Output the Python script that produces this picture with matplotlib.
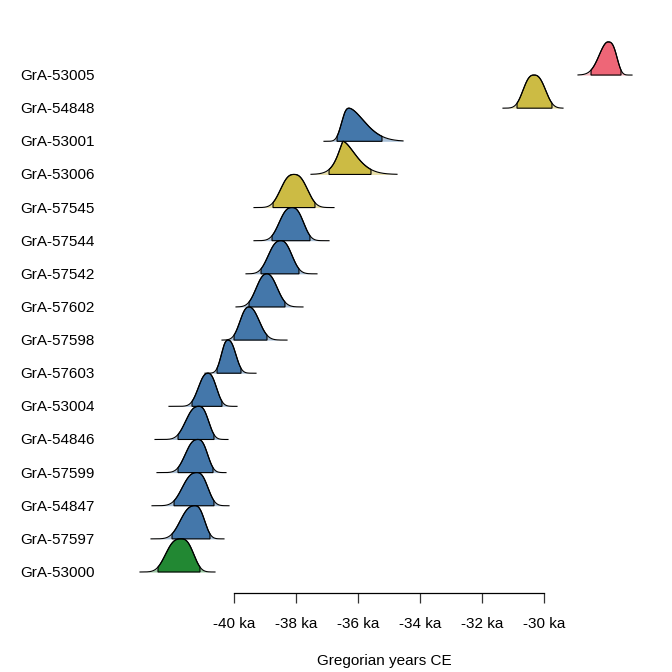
import numpy as np
import matplotlib
matplotlib.use('Agg')
import matplotlib.pyplot as plt
import matplotlib.transforms as mtransforms

plt.rcParams['font.family'] = ['Liberation Sans', 'DejaVu Sans']

# samples from top to bottom (years CE, negative = BCE)
labels = ['GrA-53005', 'GrA-54848', 'GrA-53001', 'GrA-53006', 'GrA-57545', 'GrA-57544',
          'GrA-57542', 'GrA-57602', 'GrA-57598', 'GrA-57603', 'GrA-53004', 'GrA-54846',
          'GrA-57599', 'GrA-54847', 'GrA-57597', 'GrA-53000']
peak = [-27935, -30323, -36290, -36484, -38065, -38129, -38484, -38935,
        -39516, -40194, -40839, -41129, -41161, -41194, -41258, -41710]
hdr_lo = [-28484, -30871, -36677, -36935, -38742, -38774, -39129, -39516,
          -40000, -40548, -41355, -41806, -41806, -41935, -42000, -42452]
hdr_hi = [-27516, -29742, -35226, -35581, -37387, -37548, -37903, -38355,
          -38935, -39774, -40387, -40645, -40677, -40645, -40774, -41097]
span_lo = [-28903, -31323, -37097, -37516, -39355, -39355, -39613, -39935,
           -40387, -40935, -42097, -42548, -42484, -42645, -42677, -43032]
span_hi = [-27161, -29387, -34548, -34742, -36774, -36935, -37323, -37774,
           -38290, -39290, -39903, -40194, -40258, -40161, -40323, -40613]
# how flat/peaked each side of the density looks (2 = normal)
shape_lo = [2.0, 2.6, 2.5, 1.3, 2.6, 2.6, 2.6, 2.4, 2.4, 2.4, 2.4, 2.6, 2.6, 2.6, 2.6, 2.8]
shape_hi = [3.0, 2.6, 1.7, 1.6, 2.6, 2.6, 2.4, 2.2, 2.2, 2.4, 2.4, 2.6, 2.6, 2.6, 2.6, 2.8]
groups = ['red', 'yellow', 'blue', 'yellow', 'yellow', 'blue', 'blue', 'blue',
          'blue', 'blue', 'blue', 'blue', 'blue', 'blue', 'blue', 'green']

palette = {'blue': '#4477AA', 'yellow': '#CCBB44', 'red': '#EE6677', 'green': '#228833'}
tick_years = [-40000, -38000, -36000, -34000, -32000, -30000]

fig = plt.figure(figsize=(6.72, 6.72), dpi=100)
ax = fig.add_axes([130 / 672, 79 / 672, 510 / 672, 563 / 672])
lab_tr = mtransforms.blended_transform_factory(fig.transFigure, ax.transData)

a = -np.log(0.15)  # density height at the 95% bounds
n = len(labels)
for i in range(n):
    base = n - i
    x = np.linspace(span_lo[i], span_hi[i], 500)
    left = x < peak[i]
    u = np.where(left, (peak[i] - x) / (peak[i] - hdr_lo[i]), (x - peak[i]) / (hdr_hi[i] - peak[i]))
    p = np.where(left, shape_lo[i], shape_hi[i])
    d = np.exp(-a * u ** p)
    col = palette[groups[i]]
    z = 2 + i * 3
    ax.fill_between(x, base, base + d, color=col, alpha=0.45, lw=0, zorder=z)
    m = (x >= hdr_lo[i]) & (x <= hdr_hi[i])
    xs = np.concatenate([[hdr_lo[i]], x[m], [hdr_hi[i]]])
    ys = np.concatenate([[base], base + d[m], [base]])
    ax.fill(xs, ys, facecolor=col, edgecolor='black', lw=0.8, zorder=z + 1)
    ax.plot(x, base + d, color='black', lw=0.8, zorder=z + 2)
    ax.text(20 / 672, base - 0.03, labels[i], transform=lab_tr, ha='left', va='center', fontsize=11)

x0 = -40000 + (130 - 234) * 1000 / 31
x1 = -40000 + (640 - 234) * 1000 / 31
ax.set_xlim(x0, x1)
ax.set_ylim(1 - 21 / 33.13, 1 + 542 / 33.13)

for sp in ['top', 'right', 'left']:
    ax.spines[sp].set_visible(False)
ax.spines['bottom'].set_bounds(-40000, -30000)
ax.spines['bottom'].set_linewidth(0.9)
ax.set_yticks([])
ax.set_xticks(tick_years)
ax.set_xticklabels([f'{t // 1000} ka' for t in tick_years], fontsize=11)
ax.tick_params(axis='x', length=7, width=0.9, pad=10, color='#333333')

fig.text(384 / 672, 1 - 661 / 672, 'Gregorian years CE', ha='center', va='center', fontsize=11)

fig.savefig('out.png', dpi=100)
